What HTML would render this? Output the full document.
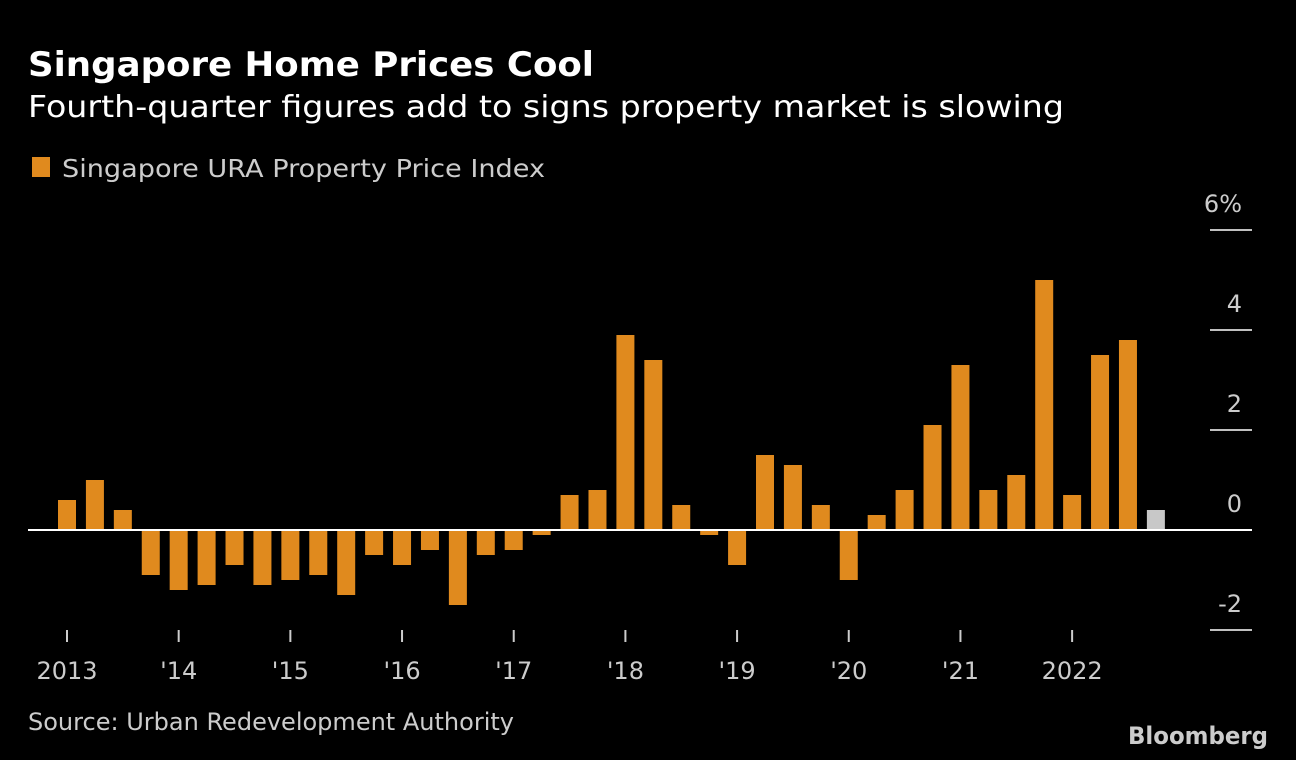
<!DOCTYPE html>
<html><head><meta charset="utf-8"><style>
body{margin:0;background:#000;width:1296px;height:760px;overflow:hidden;font-family:"DejaVu Sans","Liberation Sans",sans-serif;color:#fff}
svg text{font-family:"DejaVu Sans","Liberation Sans",sans-serif}
</style></head><body>
<svg width="1296" height="760" style="position:absolute;left:0;top:0">
<text x="28" y="76" font-size="34" font-weight="bold" fill="#fff" textLength="566" lengthAdjust="spacingAndGlyphs">Singapore Home Prices Cool</text>
<text x="28" y="117" font-size="30" fill="#fff" textLength="1036" lengthAdjust="spacingAndGlyphs">Fourth-quarter figures add to signs property market is slowing</text>
<rect x="32" y="157" width="18" height="20" fill="#e08a1e"/>
<text x="62" y="177" font-size="25" fill="#ccc" textLength="483" lengthAdjust="spacingAndGlyphs">Singapore URA Property Price Index</text>
<g id="grid"></g><g id="bars"></g><g id="xaxis"></g>
<line x1="28" y1="530" x2="1252" y2="530" stroke="#fff" stroke-width="2"/>
<text x="28" y="730" font-size="24" fill="#ccc" textLength="486" lengthAdjust="spacingAndGlyphs">Source: Urban Redevelopment Authority</text>
<text x="1128" y="744" font-size="24" font-weight="bold" fill="#ccc" textLength="140" lengthAdjust="spacingAndGlyphs">Bloomberg</text>
</svg>
<script>
const values=[0.6,1.0,0.4,-0.9,-1.2,-1.1,-0.7,-1.1,-1.0,-0.9,-1.3,-0.5,-0.7,-0.4,-1.5,-0.5,-0.4,-0.1,0.7,0.8,3.9,3.4,0.5,-0.1,-0.7,1.5,1.3,0.5,-1.0,0.3,0.8,2.1,3.3,0.8,1.1,5.0,0.7,3.5,3.8,0.4];
const yTicks=[6,4,2,0,-2];
const yTickLabels=["6%","4","2","0","-2"];
const xLabels=["2013","'14","'15","'16","'17","'18","'19","'20","'21","2022"];
const NS="http://www.w3.org/2000/svg";
const y=v=>530-v*50;
const x=i=>67+i*27.92;
const g=document.getElementById('grid'),b=document.getElementById('bars'),xa=document.getElementById('xaxis');
yTicks.forEach((t,k)=>{
  if(t!==0){const l=document.createElementNS(NS,'line');
  l.setAttribute('x1',1210);l.setAttribute('x2',1252);l.setAttribute('y1',y(t));l.setAttribute('y2',y(t));
  l.setAttribute('stroke','#fff');l.setAttribute('stroke-width',1.5);
  
  
  g.appendChild(l);}
  const tx=document.createElementNS(NS,'text');
  tx.setAttribute('x',1242);tx.setAttribute('y',y(t)-18);tx.setAttribute('text-anchor','end');
  tx.setAttribute('font-size',24);tx.setAttribute('fill','#ccc');tx.textContent=yTickLabels[k];
  
  
  g.appendChild(tx);
});
values.forEach((v,i)=>{
  const r=document.createElementNS(NS,'rect');
  r.setAttribute('x',x(i)-9);r.setAttribute('width',18);
  r.setAttribute('y',Math.min(y(v),y(0)));r.setAttribute('height',Math.abs(y(v)-y(0)));
  r.setAttribute('fill',i===values.length-1?'#c8c8c8':'#e08a1e');
  
  
  b.appendChild(r);
});
xLabels.forEach((s,k)=>{
  const l=document.createElementNS(NS,'line');
  l.setAttribute('x1',x(k*4));l.setAttribute('x2',x(k*4));l.setAttribute('y1',630);l.setAttribute('y2',642);
  l.setAttribute('stroke','#ccc');l.setAttribute('stroke-width',2);
  
  
  xa.appendChild(l);
  const t=document.createElementNS(NS,'text');
  t.setAttribute('x',x(k*4));t.setAttribute('y',679);t.setAttribute('text-anchor','middle');
  t.setAttribute('font-size',24);t.setAttribute('fill','#ccc');t.textContent=s;
  
  
  xa.appendChild(t);
});
</script>
</body></html>
